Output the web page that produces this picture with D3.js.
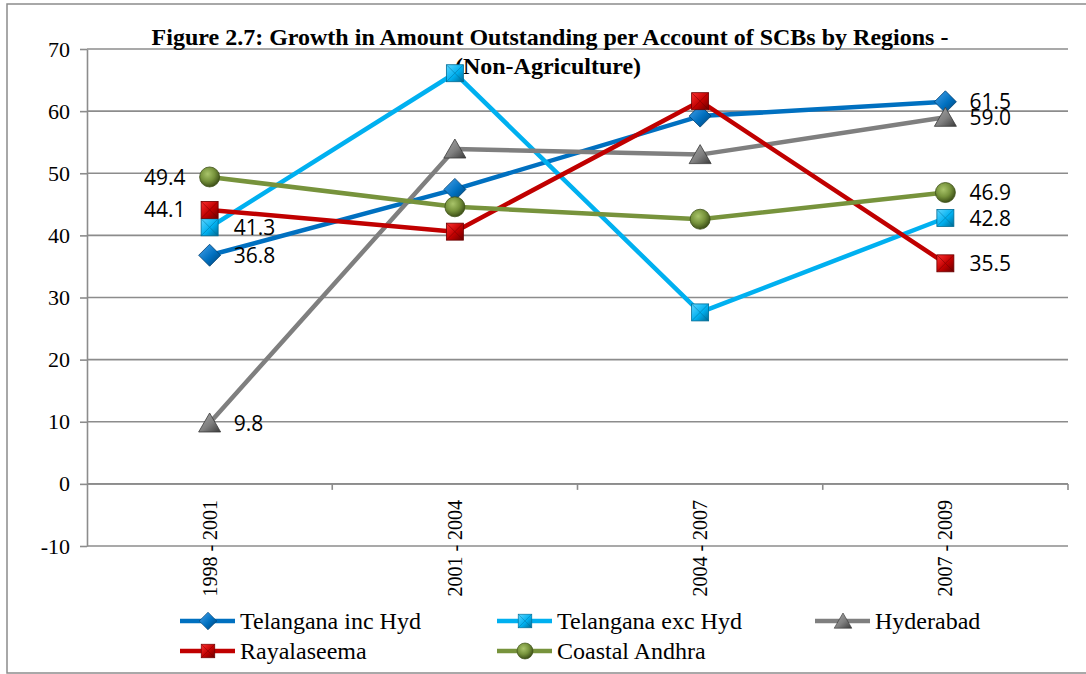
<!DOCTYPE html>
<html>
<head>
<meta charset="utf-8">
<script src="https://cdn.jsdelivr.net/npm/d3@7"></script>
<style>
  body { margin: 0; background: #fff; }
</style>
</head>
<body>
<svg id="chart"></svg>
<script>
// chart data
const periods = ["1998 - 2001", "2001 - 2004", "2004 - 2007", "2007 - 2009"];
const seriesNames = ["Telangana inc Hyd", "Telangana exc Hyd", "Hyderabad", "Rayalaseema", "Coastal Andhra"];
const telanganaInc = [36.8, 47.4, 59.2, 61.5];
const telanganaExc = [41.3, 66.1, 27.6, 42.8];
const hyderabad = [9.8, 53.9, 53.0, 59.0];
const rayalaseema = [44.1, 40.6, 61.6, 35.5];
const coastalAndhra = [49.4, 44.6, 42.6, 46.9];
const yTicks = [-10, 0, 10, 20, 30, 40, 50, 60, 70];

const series = [
  {name: seriesNames[0], values: telanganaInc, color: "#0070C0", light: "#4aa3ea", dark: "#003f70", shape: "diamond", labelFirst: "right"},
  {name: seriesNames[1], values: telanganaExc, color: "#00B0F0", light: "#5fd6ff", dark: "#006b94", shape: "square", labelFirst: "right"},
  {name: seriesNames[2], values: hyderabad, color: "#7F7F7F", light: "#a8a8a8", dark: "#3a3a3a", shape: "triangle", labelFirst: "right"},
  {name: seriesNames[3], values: rayalaseema, color: "#C00000", light: "#ff3030", dark: "#6a0000", shape: "square", labelFirst: "left"},
  {name: seriesNames[4], values: coastalAndhra, color: "#77933C", light: "#a9c46a", dark: "#3e5118", shape: "circle", labelFirst: "left"}
];

const width = 1086, height = 674;
const margin = {top: 49, bottom: 128, left: 87, right: 18};
const serif = "Liberation Serif";

const svg = d3.select("#chart")
  .attr("width", width)
  .attr("height", height);

// gradients for the glossy markers
const defs = svg.append("defs");
series.forEach((s, i) => {
  const g = defs.append(s.shape === "circle" ? "radialGradient" : "linearGradient")
    .attr("id", "grad" + i);
  if (s.shape === "circle") {
    g.attr("cx", "40%").attr("cy", "35%").attr("r", "65%");
  } else {
    g.attr("x1", "0%").attr("y1", "0%").attr("x2", "100%").attr("y2", "100%");
  }
  g.append("stop").attr("offset", "0%").attr("stop-color", s.light);
  g.append("stop").attr("offset", "55%").attr("stop-color", s.color);
  g.append("stop").attr("offset", "100%").attr("stop-color", s.dark);
});

// outer frame
svg.append("rect")
  .attr("x", 7).attr("y", 4)
  .attr("width", 1100).attr("height", 669)
  .attr("fill", "none")
  .attr("stroke", "#8c8c8c")
  .attr("stroke-width", 1.5);

// scales
const x = d3.scaleBand()
  .domain(periods)
  .range([margin.left, width - margin.right]);

const y = d3.scaleLinear()
  .domain([-10, 70])
  .range([height - margin.bottom, margin.top]);

// gridlines
svg.append("g")
  .selectAll("line")
  .data(yTicks)
  .enter().append("line")
  .attr("x1", margin.left)
  .attr("x2", width - margin.right)
  .attr("y1", d => y(d))
  .attr("y2", d => y(d))
  .attr("stroke", "#8c8c8c")
  .attr("stroke-width", 1.6);

// y axis
const yAxis = svg.append("g")
  .attr("transform", `translate(${margin.left},0)`)
  .call(d3.axisLeft(y).tickValues(yTicks).tickFormat(d => String(d))
    .tickSize(7).tickSizeOuter(0).tickPadding(10));
yAxis.attr("font-family", serif).attr("font-size", 22);
yAxis.select(".domain").attr("stroke", "#8c8c8c").attr("stroke-width", 1.6);
yAxis.selectAll(".tick line").attr("stroke", "#8c8c8c").attr("stroke-width", 1.6);
yAxis.selectAll("text").attr("fill", "#000");

// x axis on the zero line, ticks at the category boundaries
const xAxis = svg.append("g")
  .attr("transform", `translate(0,${y(0)})`);
xAxis.append("line")
  .attr("x1", margin.left).attr("x2", width - margin.right)
  .attr("stroke", "#8c8c8c").attr("stroke-width", 1.6);
xAxis.selectAll(".bound")
  .data(periods)
  .enter().append("line")
  .attr("class", "bound")
  .attr("x1", d => x(d) + x.bandwidth())
  .attr("x2", d => x(d) + x.bandwidth())
  .attr("y1", 0).attr("y2", 6)
  .attr("stroke", "#8c8c8c").attr("stroke-width", 1.6);
xAxis.selectAll(".xlabel")
  .data(periods)
  .enter().append("text")
  .attr("font-family", serif)
  .attr("font-size", 20)
  .attr("transform", d => `translate(${x(d) + x.bandwidth() / 2},16) rotate(-90)`)
  .attr("text-anchor", "end")
  .attr("dy", "0.35em")
  .text(d => d);

// title
const title = svg.append("text")
  .attr("font-family", serif)
  .attr("x", 550)
  .attr("text-anchor", "middle")
  .attr("font-size", 24)
  .attr("font-weight", "bold");
title.append("tspan").attr("x", 550).attr("y", 45)
  .text("Figure 2.7: Growth in Amount Outstanding per Account of SCBs by Regions -");
title.append("tspan").attr("x", 548).attr("y", 74)
  .text("(Non-Agriculture)");

// marker drawing
function drawMarker(sel, shape, i) {
  const fill = `url(#grad${i})`;
  const dark = series[i].dark;
  if (shape === "diamond") {
    sel.append("path").attr("d", "M0,-11L11,0L0,11L-11,0Z").attr("fill", fill)
      .attr("stroke", dark).attr("stroke-width", 0.8);
  } else if (shape === "square") {
    sel.append("rect").attr("x", -8.5).attr("y", -8.5).attr("width", 17).attr("height", 17)
      .attr("fill", fill).attr("stroke", dark).attr("stroke-width", 0.8);
    sel.append("path").attr("d", "M-8,-8L8,8M8,-8L-8,8")
      .attr("stroke", dark).attr("stroke-width", 0.8).attr("opacity", 0.6);
  } else if (shape === "triangle") {
    sel.append("path").attr("d", "M0,-10L11,9L-11,9Z").attr("fill", fill)
      .attr("stroke", dark).attr("stroke-width", 0.8);
  } else {
    sel.append("circle").attr("r", 10).attr("fill", fill)
      .attr("stroke", dark).attr("stroke-width", 0.8);
  }
}

const line = d3.line()
  .x((d, j) => x(periods[j]) + x.bandwidth() / 2)
  .y(d => y(d));

// lines
series.forEach((s, i) => {
  svg.append("path")
    .datum(s.values)
    .attr("fill", "none")
    .attr("stroke", s.color)
    .attr("stroke-width", 4.5)
    .attr("stroke-linejoin", "round")
    .attr("d", line);
});

// markers
series.forEach((s, i) => {
  s.values.forEach((v, j) => {
    const g = svg.append("g")
      .attr("transform", `translate(${x(periods[j]) + x.bandwidth() / 2},${y(v)})`);
    drawMarker(g, s.shape, i);
  });
});

// data labels on first and last points
series.forEach((s, i) => {
  const last = s.values.length - 1;
  [0, last].forEach(j => {
    const left = j === 0 && s.labelFirst === "left";
    svg.append("text")
      .attr("x", x(periods[j]) + x.bandwidth() / 2 + (left ? -24 : 24))
      .attr("y", y(s.values[j]))
      .attr("dy", "0.36em")
      .attr("text-anchor", left ? "end" : "start")
      .attr("font-family", "Open Sans")
      .attr("font-size", 21)
      .text(s.values[j].toFixed(1));
  });
});

// legend
const legendPos = [[180, 621], [497, 621], [815, 621], [180, 651], [497, 651]];
series.forEach((s, i) => {
  const lg = svg.append("g")
    .attr("transform", `translate(${legendPos[i][0]},${legendPos[i][1]})`);
  lg.append("line")
    .attr("x1", 0).attr("x2", 55)
    .attr("stroke", s.color).attr("stroke-width", 4.5);
  drawMarker(lg.append("g").attr("transform", "translate(28,0) scale(0.8)"), s.shape, i);
  lg.append("text")
    .attr("font-family", serif)
    .attr("x", 60)
    .attr("dy", "0.33em")
    .attr("font-size", 24)
    .text(s.name);
});
</script>
</body>
</html>
